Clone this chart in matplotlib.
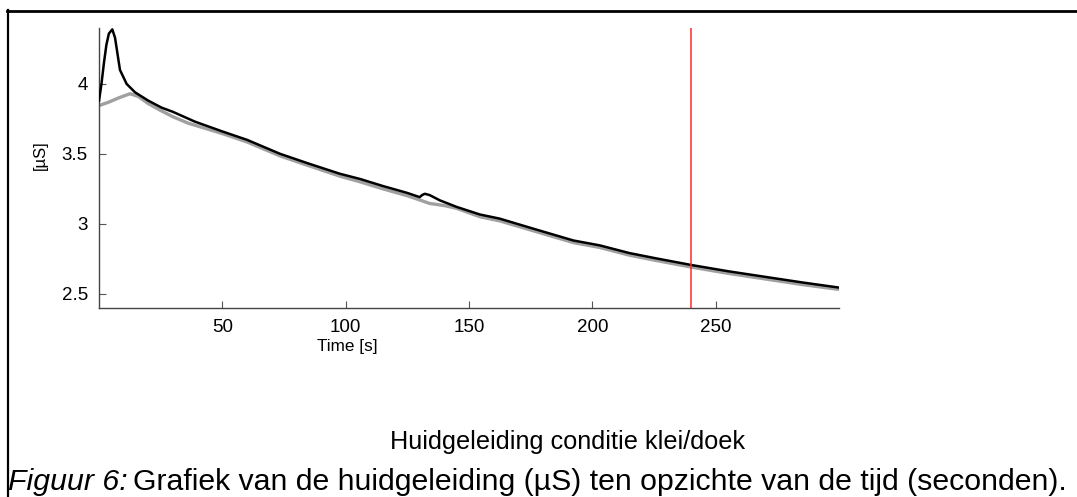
import matplotlib
matplotlib.use("Agg")
import matplotlib.pyplot as plt
from matplotlib.lines import Line2D

plt.rcParams['font.family'] = ['Liberation Sans', 'DejaVu Sans']

# Skin conductance, condition 1 (black)
t_black = [0, 1, 2, 3, 4, 5.4, 6.5, 8.5, 11.2, 14.6, 20, 25.4, 30, 38.9, 50, 60,
           73.4, 85, 97.7, 105.8, 115, 125, 130, 131, 132.1, 134, 138.2, 145,
           154.4, 162.5, 175, 192.3, 203, 215, 225, 235.5, 240, 255, 270, 285, 300]
sc_black = [3.88, 4.0, 4.15, 4.28, 4.36, 4.39, 4.33, 4.10, 4.00, 3.94, 3.88, 3.83,
            3.80, 3.73, 3.66, 3.60, 3.50, 3.43, 3.357, 3.32, 3.27, 3.22, 3.19,
            3.205, 3.214, 3.205, 3.167, 3.12, 3.066, 3.036, 2.97, 2.88, 2.845,
            2.79, 2.755, 2.72, 2.705, 2.66, 2.62, 2.58, 2.543]

# Skin conductance, condition 2 (grey)
t_grey = [0, 4, 8, 12.6, 16, 19.9, 25, 30, 36, 50, 60, 73.4, 85, 97.7, 105.8, 115,
          125, 130, 134, 140, 145, 154.4, 162.5, 175, 192.3, 203, 215, 225, 235.5,
          240, 255, 270, 285, 300]
sc_grey = [3.845, 3.87, 3.90, 3.93, 3.91, 3.86, 3.81, 3.765, 3.72, 3.645, 3.585,
           3.485, 3.415, 3.34, 3.30, 3.25, 3.20, 3.17, 3.145, 3.13, 3.11, 3.05,
           3.02, 2.955, 2.865, 2.83, 2.775, 2.74, 2.705, 2.69, 2.645, 2.605,
           2.565, 2.53]

marker_time = 240
x_ticks = [50, 100, 150, 200, 250]
y_ticks = [2.5, 3, 3.5, 4]
y_ticklabels = ['2.5', '3', '3.5', '4']

W, H = 1077, 497
fig = plt.figure(figsize=(W / 100, H / 100), dpi=100)

ax = fig.add_axes([99 / W, 1 - 308 / H, 740 / W, 280 / H])
ax.plot(t_grey, sc_grey, color='#a0a0a0', lw=2.4, solid_capstyle='butt', zorder=2)
ax.plot(t_black, sc_black, color='black', lw=1.8, zorder=3)
ax.axvline(marker_time, color='#ff2a2a', lw=1.1, zorder=4)

ax.set_xlim(0, 300)
ax.set_ylim(2.397, 4.4)
ax.set_xticks(x_ticks)
ax.set_yticks(y_ticks)
ax.set_yticklabels(y_ticklabels)
ax.tick_params(direction='in', length=5, width=0.8, color='#555555',
               labelsize=13.5)
ax.tick_params(axis='x', pad=8)
ax.tick_params(axis='y', pad=8)
for side in ('top', 'right'):
    ax.spines[side].set_visible(False)
for side in ('left', 'bottom'):
    ax.spines[side].set_color('#444444')
    ax.spines[side].set_linewidth(1.0)

ax.set_xlabel('Time [s]', fontsize=12.3)
ax.xaxis.set_label_coords((347 - 99) / 740, -(347 - 308) / 280, transform=ax.transAxes)
ax.xaxis.label.set_va('center')
ax.set_ylabel('[µS]', fontsize=12)
ax.yaxis.set_label_coords(-(99 - 40) / 740, 1 - (155 - 28) / 280, transform=ax.transAxes)
ax.yaxis.label.set_va('center')

# Figure titles
fig.text(568 / W, 1 - 442 / H, 'Huidgeleiding conditie klei/doek',
         ha='center', va='center', fontsize=18.2)

cap_y = 1 - 482 / H
t1 = fig.text(8 / W, cap_y, 'Figuur 6:', ha='left', va='center',
              fontsize=21.8, style='italic')
fig.canvas.draw()
bb = t1.get_window_extent(renderer=fig.canvas.get_renderer())
fig.text((bb.x1 + 5) / W, cap_y,
         'Grafiek van de huidgeleiding (µS) ten opzichte van de tijd (seconden).',
         ha='left', va='center', fontsize=21.8)

# Frame around the figure
fig.add_artist(Line2D([7.5 / W, 7.5 / W], [0, 1 - 10 / H], color='black', lw=1.6,
                      transform=fig.transFigure))
fig.add_artist(Line2D([6.7 / W, 1], [1 - 10.5 / H, 1 - 10.5 / H], color='black',
                      lw=2.0, transform=fig.transFigure))

fig.savefig('out.png', dpi=100)
